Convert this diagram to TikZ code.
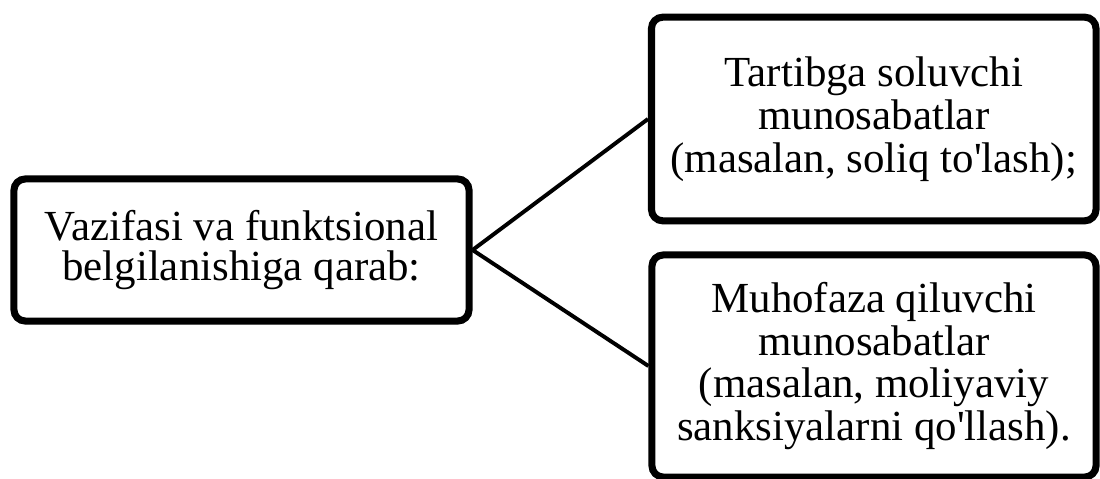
\documentclass[tikz,border=0pt]{standalone}
\usepackage{fontspec}
\setmainfont{Liberation Serif}
\usetikzlibrary{shadows}
\newcommand{\apos}{\textquotesingle}
\begin{document}
\begin{tikzpicture}[x=0.025cm, y=-0.025cm,
  box/.style={draw=black, line width=5pt, rounded corners=8pt, fill=white,
    align=center, inner sep=0pt,
    font=\fontsize{30.5}{30.5}\selectfont,
    drop shadow={opacity=0.18, shadow xshift=0pt, shadow yshift=-2.5pt}},
  link/.style={draw=black, line width=2.8pt}]
\useasboundingbox (0,0) rectangle (1100,479);

% category box and its two branches
\node[box, minimum width=11.375cm, minimum height=3.55cm,
  font=\fontsize{30.5}{28.5}\selectfont] (cat) at (241.5,250)
  {Vazifasi va funktsional\\belgilanishiga qarab:};
\node[box, minimum width=11.11cm, minimum height=5.09cm] (reg) at (873.75,119)
  {Tartibga soluvchi\\munosabatlar\\(masalan, soliq to\apos lash);};
\node[box, minimum width=11.1cm, minimum height=5.55cm] (pro) at (874,366)
  {Muhofaza qiluvchi\\munosabatlar\\(masalan, moliyaviy\\sanksiyalarni qo\apos llash).};

\draw[link] (cat.east) -- (reg.west);
\draw[link] (cat.east) -- (pro.west);
\end{tikzpicture}
\end{document}
